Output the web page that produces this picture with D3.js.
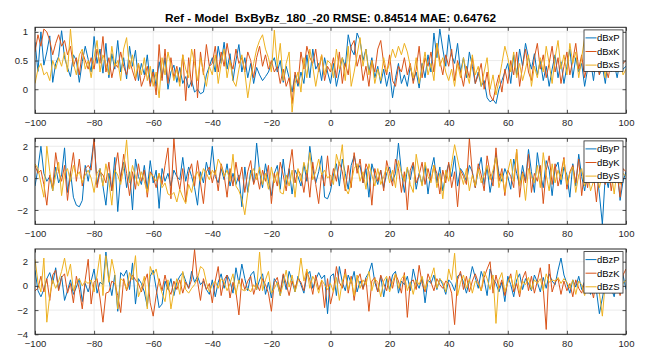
<!DOCTYPE html>
<html><head><meta charset="utf-8">
<script src="https://cdn.jsdelivr.net/npm/d3@7"></script>
<style>body{margin:0;background:#fff}svg{display:block}text{font-family:"Liberation Sans",Arial,Helvetica,sans-serif;fill:#262626}</style>
</head><body><svg id="c" width="656" height="350"></svg>
<script>
const xTicks = [-100,-80,-60,-40,-20,0,20,40,60,80,100];
const titleText = "Ref - Model  BxByBz_180_-20 RMSE: 0.84514 MAE: 0.64762";
const seriesColors = ["#0072BD","#D95319","#EDB120"];

const dBxP = [0.82,0.31,1.00,0.42,0.65,0.93,0.12,0.45,0.57,1.02,
0.55,0.38,0.22,0.60,0.50,0.12,0.48,0.75,0.52,0.30,
0.92,0.45,0.70,0.28,0.80,0.20,0.62,0.35,0.85,0.30,
0.55,0.18,0.75,0.40,0.68,0.15,0.45,0.25,0.60,0.10,
0.35,0.05,0.48,0.20,0.55,0.00,0.30,0.42,0.12,0.38,
0.10,0.22,0.02,0.15,-0.05,0.00,-0.08,-0.05,0.25,0.40,
0.55,0.30,0.75,0.45,0.82,0.35,0.62,0.15,0.50,0.78,
0.30,0.55,0.20,0.45,0.10,0.38,0.25,0.15,0.22,0.30,
0.45,0.55,0.30,0.50,0.12,0.40,0.20,-0.05,0.25,0.05,
0.30,0.10,0.60,0.20,0.70,0.35,0.45,0.15,0.55,0.30,
0.10,0.45,0.05,0.30,0.55,0.40,0.95,0.70,0.60,0.98,
0.85,0.50,0.70,0.30,0.55,0.20,0.40,0.10,0.35,0.05,
0.30,-0.15,0.20,0.45,0.10,0.25,0.05,0.40,0.15,0.30,
0.02,0.45,0.20,0.60,0.30,0.98,0.55,1.05,0.70,0.40,
0.95,0.60,0.45,0.80,0.30,0.55,0.20,0.65,0.40,0.10,
0.30,0.05,0.15,-0.15,-0.22,-0.18,-0.25,0.00,0.15,0.30,
0.45,0.10,0.60,0.25,0.70,0.40,0.80,0.55,0.35,0.62,
0.25,0.50,0.15,0.40,0.05,0.35,0.60,0.20,0.48,0.10,
0.40,0.70,0.20,0.55,0.30,0.45,0.05,0.35,0.50,0.15,
0.60,0.25,0.40,0.10,0.55,0.30,0.45,0.20,0.50,0.35,0.40];
const dBxK = [0.65,0.95,0.75,1.05,1.00,0.85,0.60,0.80,0.95,0.75,
0.85,0.60,0.75,0.40,0.55,0.25,0.65,0.50,0.35,0.55,
0.35,0.70,0.45,0.92,0.30,0.55,0.20,0.45,0.38,0.65,
0.40,0.25,0.50,0.32,0.15,0.45,0.05,0.20,0.40,0.05,
0.30,-0.10,0.78,0.15,0.70,0.10,0.55,0.20,0.40,0.12,
0.60,-0.20,0.55,0.05,0.70,-0.15,0.65,0.25,0.78,0.40,
0.45,0.75,0.30,0.65,0.40,0.80,0.50,0.35,0.70,0.45,
0.55,0.30,0.65,0.50,0.20,0.55,0.75,0.40,0.60,0.35,
0.50,0.30,0.40,0.10,0.35,0.05,0.20,-0.25,0.30,0.10,
0.65,0.35,0.75,0.55,0.45,0.70,0.30,0.60,0.15,0.40,
0.30,0.55,0.20,0.65,0.10,0.45,0.25,0.75,0.85,0.40,
0.60,0.15,0.40,0.05,0.50,0.30,0.70,0.85,0.45,0.25,
0.60,0.15,0.05,0.40,0.30,0.55,0.25,0.45,0.10,0.35,
0.75,0.20,0.55,0.40,0.65,0.30,0.80,0.50,0.25,0.60,
0.40,0.70,0.15,0.50,0.30,0.05,0.40,0.20,0.55,0.10,
0.25,0.45,0.00,0.30,-0.10,-0.20,0.05,0.25,-0.05,0.35,
0.10,0.50,0.25,0.65,0.05,0.40,0.70,0.30,0.15,0.55,
0.80,0.35,0.60,0.20,0.45,0.75,0.30,0.55,0.10,0.40,
0.65,0.25,0.50,0.80,0.35,0.60,0.20,0.45,0.70,0.30,
0.55,0.25,0.65,0.40,0.20,0.50,0.75,0.30,0.60,0.45,0.50];
const dBxS = [0.10,0.35,0.45,0.25,0.30,0.15,0.50,0.35,0.55,0.40,
0.65,0.30,1.05,0.45,0.25,0.60,0.70,0.35,0.50,0.20,
0.55,0.85,0.30,0.60,0.45,0.25,0.75,0.40,0.50,0.15,
0.70,0.90,0.35,0.60,0.20,0.45,0.25,0.55,0.15,0.40,
0.05,0.30,-0.15,0.55,0.25,0.65,0.40,0.15,0.35,0.05,
0.60,0.35,0.20,0.70,0.45,0.15,0.55,0.30,0.05,0.40,
0.25,0.60,0.10,0.45,0.70,0.20,0.50,0.15,0.05,0.35,
0.60,0.30,-0.15,0.20,0.45,0.70,0.85,0.95,0.70,0.55,
0.30,1.03,0.40,0.80,0.15,0.45,0.65,-0.40,0.10,0.30,
-0.05,0.55,0.20,0.70,0.40,0.05,0.35,0.60,0.25,0.50,
0.45,0.20,0.70,0.35,0.55,0.15,0.75,0.05,0.30,0.60,
0.90,0.40,0.70,0.25,0.50,0.10,0.35,0.15,0.55,0.30,
0.45,0.70,0.55,0.75,0.60,0.80,0.65,0.40,0.20,0.55,
0.10,0.35,0.65,0.25,0.45,0.15,0.80,0.40,0.55,0.30,
0.15,0.35,0.05,0.45,0.20,0.55,0.30,0.10,0.60,0.25,
0.40,0.05,0.30,0.55,0.00,0.25,-0.10,0.15,0.45,0.75,
0.55,0.30,0.65,0.20,0.45,0.15,0.35,0.60,0.05,0.40,
0.20,0.55,0.30,0.75,0.45,0.10,0.55,0.85,0.35,0.60,
0.25,0.80,0.45,0.65,0.20,0.55,0.90,0.35,0.60,0.40,
0.75,0.30,0.55,0.20,0.65,0.40,0.85,0.30,0.55,0.25,0.35];

const dByP = [-0.5,0.6,2.0,0.3,-0.2,0.1,-0.8,0.7,-0.3,0.2,
1.9,-0.9,0.4,-1.2,-1.7,-1.8,-1.4,0.8,-0.2,1.0,
2.5,-0.4,0.6,-0.5,-1.7,0.3,-0.8,1.3,-2.1,0.2,
1.0,-0.6,0.4,-2.0,1.2,0.1,-0.4,0.8,-0.7,1.1,
-0.3,0.5,-1.9,0.6,-0.2,0.3,-0.5,0.5,0.1,-0.1,
1.3,-0.2,0.7,0.1,-0.6,-1.7,0.4,-0.3,1.0,0.2,
2.0,0.1,-0.3,0.6,-0.1,0.9,-0.5,0.3,-0.4,0.2,
-1.8,0.7,-0.9,0.5,-0.3,2.2,0.4,-0.6,0.9,-0.2,
-1.1,0.3,0.8,-0.7,1.2,-0.4,0.6,-1.0,0.5,0.1,
-0.5,0.9,-0.2,2.0,0.6,-0.3,0.4,1.4,-1.2,-1.3,
-0.8,0.2,0.9,-0.5,1.2,0.3,-0.7,0.8,1.4,0.5,
0.8,-0.3,0.6,-1.2,0.9,0.2,-0.4,0.5,-0.6,0.3,
0.7,-0.2,0.3,2.2,0.4,-0.9,0.6,-0.1,0.9,-0.7,
0.3,-0.4,0.8,-1.0,0.5,1.3,-0.3,0.7,-0.8,0.2,
0.9,0.1,1.4,-0.5,0.6,0.3,-0.2,0.8,0.4,-0.6,
0.5,1.3,-0.4,0.7,-0.9,0.2,1.5,0.3,-0.2,0.6,
0.1,-0.7,1.2,0.3,-0.5,0.8,-0.2,1.8,0.4,-0.9,
1.6,0.3,-0.6,1.1,0.5,-1.1,0.6,1.0,-0.4,0.7,
0.2,-1.2,0.9,-0.5,1.5,0.1,-0.8,0.4,1.0,-0.3,
0.5,-1.0,-2.9,0.2,-0.6,0.9,-0.3,0.6,-1.4,-0.2,0.4];
const dByK = [0.8,0.3,0.5,-0.4,-1.7,0.2,-0.6,1.6,0.4,-0.2,
0.8,-1.4,0.3,1.6,-0.2,1.2,-0.5,0.6,0.8,0.5,
2.5,-0.6,0.4,0.2,-0.3,1.0,-0.8,0.5,1.6,-0.2,
1.5,0.3,-1.1,0.4,-0.7,0.9,-0.2,0.5,-1.2,0.4,
0.1,-0.6,0.3,-0.4,0.8,1.9,-1.3,2.5,0.2,-0.7,
0.6,-1.5,0.3,0.9,-0.5,1.1,-0.3,-1.6,0.4,0.7,
-0.3,0.5,-0.8,0.9,0.2,-1.2,0.6,-0.5,1.0,-0.2,
0.7,-0.9,0.4,1.1,-0.4,0.3,-0.7,0.5,-0.2,0.8,
-1.6,0.3,-0.5,1.0,0.2,-0.8,0.6,1.8,-0.3,0.5,
0.2,-0.9,0.5,-1.2,1.0,-0.4,-1.6,0.3,-0.5,1.4,
-0.5,0.6,-0.2,1.0,0.4,-0.8,0.8,-0.6,1.6,0.3,
1.2,-0.3,0.9,0.4,-1.7,0.6,-0.2,0.5,-0.8,1.1,
0.3,-0.5,1.2,0.6,-0.9,0.4,-2.0,0.5,1.0,-0.3,
0.2,1.0,-0.4,0.6,-0.2,0.8,0.3,-1.0,0.5,-0.3,
1.0,-0.6,0.4,-1.8,0.5,0.1,-0.4,2.5,0.3,-0.6,
0.9,0.2,-0.8,1.4,0.3,-0.5,1.9,-0.2,0.6,-1.1,
0.5,0.1,-0.6,1.8,-1.2,0.4,-0.3,1.5,-0.9,0.3,
-0.2,0.8,-1.6,0.5,1.4,-0.4,0.9,-0.5,0.3,1.3,
-0.7,0.4,0.8,-0.3,1.2,-1.1,0.5,-0.6,0.9,0.2,
-1.5,0.6,0.2,-0.4,0.9,-0.8,0.5,0.3,-1.2,0.6,0.4];
const dByS = [0.9,0.6,-0.3,-1.2,2.0,0.4,-0.8,0.2,1.0,-1.1,
0.3,0.6,-0.2,0.8,0.1,0.4,-0.3,0.2,0.5,0.0,
-0.9,0.3,0.6,-0.5,0.9,-0.2,-1.7,0.5,0.2,-0.4,
0.6,2.4,-0.3,0.8,0.1,-0.5,0.4,-0.2,-0.9,0.3,
0.1,-0.2,0.3,-0.6,-0.3,-1.0,-1.1,-0.9,-1.5,-0.7,
-1.2,-1.6,-0.4,-0.9,0.1,0.4,-0.2,0.6,0.3,-0.1,
0.5,0.2,1.2,0.8,0.1,0.5,-0.2,1.5,-0.5,-0.8,
-1.3,-2.3,-0.9,0.2,0.6,-0.1,0.7,-0.4,0.3,-0.7,
0.7,-0.3,0.4,-0.9,-1.0,0.2,-0.5,0.5,-1.2,0.6,
-0.2,1.0,0.3,1.6,-0.1,0.4,1.2,0.2,0.5,0.0,
0.2,-0.4,1.5,0.8,2.1,-0.6,-1.0,-0.3,0.6,0.9,
-0.2,0.4,-0.7,0.9,0.2,-0.5,0.6,-0.4,0.1,0.7,
-0.3,0.5,-0.6,1.1,0.3,-0.2,0.7,-0.4,-0.9,1.5,
0.4,-0.5,1.0,0.1,-0.3,0.8,-0.6,0.3,-1.3,0.5,
-0.2,0.9,2.1,1.2,0.3,-0.4,0.6,-0.8,0.2,-0.5,
0.6,-0.3,0.2,0.8,-0.1,0.5,1.3,-0.6,0.3,-0.9,
0.4,1.2,-0.2,1.8,-0.5,0.3,-1.4,0.6,0.1,-0.3,
0.8,-0.6,1.6,0.2,-0.8,0.9,-0.3,0.5,-0.1,1.2,
-0.4,0.3,0.7,-0.9,0.2,0.6,-0.5,0.4,-0.8,-0.2,
0.5,-0.6,0.2,0.8,-0.3,0.4,-1.0,0.6,-0.4,0.3,0.1];

const dBzP = [1.3,-0.4,-0.9,-0.3,0.6,1.1,0.2,1.5,-0.3,0.8,
-1.2,-0.4,0.5,-0.7,-0.1,0.6,-1.3,0.2,-0.5,0.4,
1.4,-0.6,0.3,0.1,2.8,0.5,-0.8,0.9,-2.1,1.1,
0.8,1.3,-0.3,1.9,-1.5,0.6,0.2,-0.5,-1.7,0.8,
1.3,-0.2,-1.8,-1.5,0.4,-0.3,0.6,-0.8,0.3,0.8,
1.1,0.4,-0.2,1.2,0.3,0.8,0.1,0.4,-0.3,-0.7,
0.5,-0.9,0.3,1.0,-0.2,0.9,0.4,-0.6,1.5,0.2,
1.8,0.6,-0.4,0.9,1.2,-0.3,0.5,1.0,-0.7,0.3,
-1.0,0.6,0.2,-0.8,0.9,-0.3,1.2,0.4,-0.5,0.8,
0.1,-0.6,0.9,1.2,-0.2,0.5,1.1,0.6,0.9,-2.3,
0.8,1.0,-0.8,1.6,0.3,-0.4,0.9,0.2,1.2,-0.5,
0.4,-0.2,0.7,1.1,1.9,0.3,-0.5,0.8,-0.9,0.6,
-0.3,0.9,1.2,-0.6,0.4,0.1,0.8,-0.4,1.4,0.3,
-0.2,0.7,-1.4,0.5,0.2,0.9,-0.3,0.6,0.1,-0.7,
0.5,0.2,-0.4,0.8,1.0,0.3,-0.6,0.4,1.6,0.7,
-0.2,1.2,0.5,-0.8,1.4,0.6,0.2,-0.5,0.3,-1.3,
0.8,0.1,-0.9,0.5,1.0,-0.3,0.6,0.2,-0.4,0.9,
0.3,-0.5,0.7,-0.2,1.0,0.4,0.1,1.3,2.3,0.9,
0.2,-0.6,0.5,-0.1,0.8,-0.3,0.4,0.1,-0.7,0.6,
-0.4,-2.3,-1.0,0.3,0.6,-0.2,-0.9,0.5,1.1,0.9,-0.3];
const dBzK = [-0.4,-0.2,0.8,-0.5,0.6,-1.2,0.9,1.3,-0.4,0.7,
1.0,-0.6,0.2,-1.4,0.8,-0.3,-1.9,0.5,2.2,-1.5,
0.3,0.6,-1.0,-3.0,-0.6,-0.5,0.4,0.2,-0.8,-2.2,
0.6,-0.4,0.3,0.9,0.5,0.2,-0.5,0.3,1.0,-1.4,
-2.5,-0.8,0.6,-0.4,0.9,-0.2,-0.7,0.4,-0.3,0.5,
-0.6,0.3,-0.2,0.5,3.0,0.4,-1.2,0.6,-0.3,0.2,
-1.4,0.4,1.6,-0.8,0.5,0.9,-1.0,0.3,-0.5,-2.4,
0.6,-0.3,0.4,0.8,-0.7,0.2,-0.4,0.6,0.1,-0.6,
-2.1,0.3,0.7,-0.5,1.0,0.2,-0.8,0.4,-0.2,0.6,
0.3,-0.4,1.2,0.5,-0.7,0.9,-0.3,0.4,-1.8,0.6,
-1.5,-0.4,1.6,0.3,-0.2,1.4,-0.6,0.8,-1.2,0.5,
1.0,-0.3,0.6,-2.1,0.4,0.7,-0.5,0.9,0.2,-0.4,
0.8,-0.2,1.0,0.4,-0.6,1.1,-2.6,0.3,0.5,-0.3,
1.7,0.2,-0.5,1.0,0.3,-0.4,0.6,0.1,-0.2,0.4,
0.2,-0.6,-3.2,0.5,1.2,-0.3,0.8,-0.5,0.4,1.0,
0.3,-0.4,0.7,1.4,2.0,-0.6,0.9,-0.2,0.5,-0.8,
0.3,1.0,-0.5,0.2,-0.9,0.6,1.2,-0.4,0.8,-0.6,
0.4,1.5,-0.2,-3.6,1.8,-0.5,0.3,0.6,-0.7,0.4,
-0.4,0.2,-0.9,0.5,-0.2,-0.6,0.3,-0.4,0.1,-1.0,
0.6,-0.3,0.2,0.8,-0.5,0.4,-0.2,0.6,-0.8,0.9,1.4];
const dBzS = [2.2,0.3,-0.5,2.3,-3.0,-0.8,0.5,-0.2,0.4,1.2,
2.3,0.8,1.8,-0.4,0.3,0.6,0.0,0.4,0.2,0.5,
-0.5,0.9,2.6,-0.8,2.5,0.3,2.2,1.0,-1.9,0.6,
0.4,-0.3,1.1,0.5,2.5,-0.9,-0.2,0.8,-1.9,1.6,
0.9,1.4,0.2,-0.6,-1.3,0.5,-1.9,-0.4,0.6,-0.7,
1.2,-0.3,-0.6,-0.2,0.1,0.6,1.6,1.4,0.3,-0.5,
0.1,0.4,-0.2,0.6,0.3,-0.4,0.2,1.0,-0.7,0.5,
-0.3,-0.4,-0.2,-0.5,0.1,-0.3,2.8,-0.4,0.5,1.2,
-0.6,-0.2,0.3,-0.8,0.2,1.3,-0.1,0.9,-0.5,0.4,
2.3,0.4,1.4,-0.2,0.8,0.3,-0.6,0.5,0.1,-0.3,
0.2,-0.5,0.7,-1.2,0.4,1.0,-0.3,0.6,-0.8,0.9,
-0.2,0.5,0.1,1.2,-0.4,0.6,0.3,-0.9,0.4,0.8,
-0.5,0.3,1.0,-0.2,0.6,0.9,-0.4,0.3,-0.7,0.5,
0.1,0.8,-0.3,0.4,0.7,1.5,-0.2,0.6,0.3,-0.5,
1.4,0.5,2.7,-0.8,0.3,0.9,-0.2,0.6,-0.6,0.4,
0.2,-0.4,1.2,0.6,-0.3,0.9,-3.1,0.5,1.1,-0.5,
0.3,0.8,-0.2,1.3,-0.6,0.4,0.1,0.7,-0.3,0.5,
0.2,0.6,-0.4,1.0,0.3,0.5,0.4,0.7,0.2,0.6,
0.3,-0.2,0.5,-0.7,0.4,0.1,-0.8,0.3,0.6,-0.1,
0.4,-0.6,-2.5,0.3,0.8,-0.2,0.6,-0.4,1.0,0.2,0.5];

const panels = [
  {names:["dBxP","dBxK","dBxS"], data:[dBxP,dBxK,dBxS], yDomain:[-0.42,1.08], yTicks:[0,0.5,1], top:27.3, bottom:113.3},
  {names:["dByP","dByK","dByS"], data:[dByP,dByK,dByS], yDomain:[-2.9,2.5], yTicks:[-2,0,2], top:138.3, bottom:224.3},
  {names:["dBzP","dBzK","dBzS"], data:[dBzP,dBzK,dBzS], yDomain:[-4,3.05], yTicks:[-4,-2,0,2], top:249, bottom:334.3}
];

const svg = d3.select("#c");
const L = 35, R = 626;
const x = d3.scaleLinear().domain([-100,100]).range([L,R]);
const axisCol = "#262626", gridCol = "#e6e6e6";

svg.append("text").attr("x",(L+R)/2).attr("y",22).attr("text-anchor","middle")
  .attr("font-size","11.8px").attr("font-weight","bold").style("fill","#000")
  .style("white-space","pre").attr("xml:space","preserve").text(titleText);

panels.forEach((p,pi)=>{
  const y = d3.scaleLinear().domain(p.yDomain).range([p.bottom,p.top]);
  const g = svg.append("g");
  g.selectAll(".gx").data(xTicks).enter().append("line")
    .attr("x1",d=>x(d)).attr("x2",d=>x(d)).attr("y1",p.top).attr("y2",p.bottom)
    .attr("stroke",gridCol).attr("stroke-width",0.8);
  g.selectAll(".gy").data(p.yTicks).enter().append("line")
    .attr("x1",L).attr("x2",R).attr("y1",d=>y(d)).attr("y2",d=>y(d))
    .attr("stroke",gridCol).attr("stroke-width",0.8);
  const cid = "clip"+pi;
  svg.append("clipPath").attr("id",cid).append("rect")
    .attr("x",L).attr("y",p.top).attr("width",R-L).attr("height",p.bottom-p.top);
  const line = d3.line().x((d,i)=>x(-100+i)).y(d=>y(d));
  const lg = g.append("g").attr("clip-path",`url(#${cid})`);
  p.data.forEach((arr,si)=>{
    lg.append("path").datum(arr).attr("d",line).attr("fill","none")
      .attr("stroke",seriesColors[si]).attr("stroke-width",1).attr("stroke-linejoin","round");
  });
  const tl = 3.5;
  const xb = d3.axisBottom(x).tickValues(xTicks).tickSizeInner(-tl).tickSizeOuter(0).tickPadding(7);
  const ax = g.append("g").attr("transform",`translate(0,${p.bottom})`).call(xb);
  const xt = d3.axisTop(x).tickValues(xTicks).tickSizeInner(-tl).tickSizeOuter(0).tickFormat("");
  const axT = g.append("g").attr("transform",`translate(0,${p.top})`).call(xt);
  const yl = d3.axisLeft(y).tickValues(p.yTicks).tickSizeInner(-tl).tickSizeOuter(0).tickPadding(7).tickFormat(d3.format("~g"));
  const ay = g.append("g").attr("transform",`translate(${L},0)`).call(yl);
  const yr = d3.axisRight(y).tickValues(p.yTicks).tickSizeInner(-tl).tickSizeOuter(0).tickFormat("");
  const ayr = g.append("g").attr("transform",`translate(${R},0)`).call(yr);
  [ax,axT,ay,ayr].forEach(a=>{
    a.select(".domain").remove();
    a.selectAll(".tick line").attr("stroke",axisCol).attr("stroke-width",0.8);
    a.selectAll(".tick text").attr("font-size","9.5px").style("fill",axisCol)
      .attr("font-family",'"Liberation Sans",Arial,sans-serif');
  });
  ax.selectAll(".tick text").attr("dy","0.71em").attr("y",6);
  g.append("rect").attr("x",L).attr("y",p.top).attr("width",R-L).attr("height",p.bottom-p.top)
    .attr("fill","none").attr("stroke",axisCol).attr("stroke-width",1);
  const lx = 584, ly = p.top + 2.6, lw = 39, lh = 41.5;
  const leg = g.append("g");
  leg.append("rect").attr("x",lx).attr("y",ly).attr("width",lw).attr("height",lh)
    .attr("fill","#fff").attr("stroke",axisCol).attr("stroke-width",0.8);
  p.names.forEach((n,si)=>{
    const cy = ly + 8 + si*13.6;
    leg.append("line").attr("x1",lx+1.5).attr("x2",lx+12.5).attr("y1",cy).attr("y2",cy)
      .attr("stroke",seriesColors[si]).attr("stroke-width",1);
    leg.append("text").attr("x",lx+13).attr("y",cy).attr("dy","0.35em")
      .attr("font-size","9.5px").style("fill","#000").text(n);
  });
});
</script></body></html>
